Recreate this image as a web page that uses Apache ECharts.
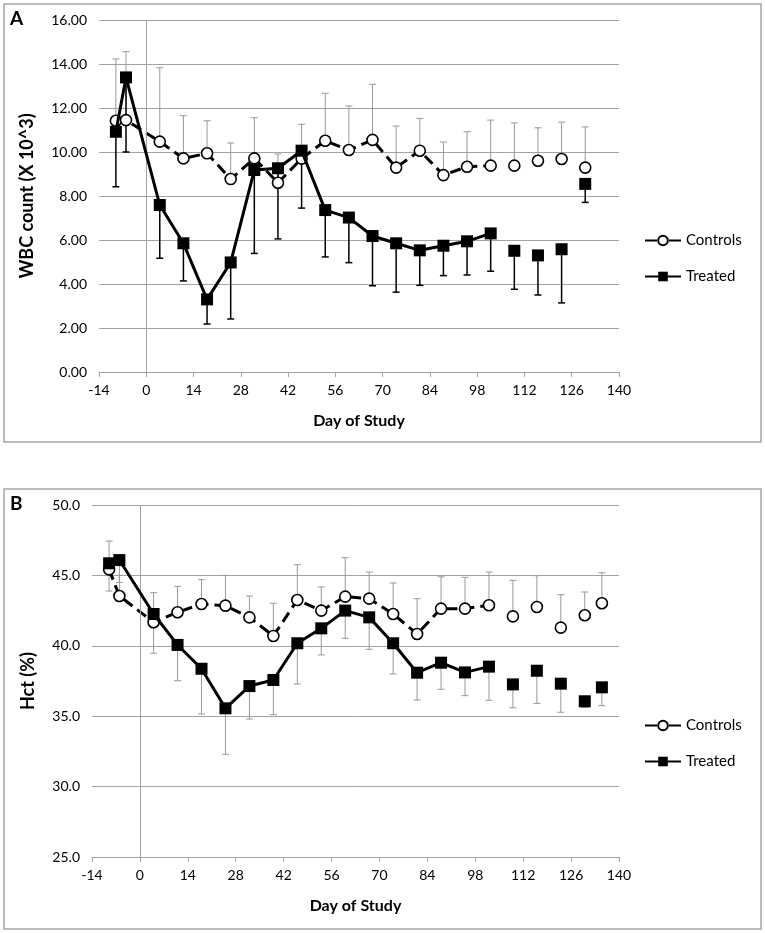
<!DOCTYPE html>
<html>
<head>
<meta charset="utf-8">
<script src="https://cdn.jsdelivr.net/npm/echarts@6/dist/echarts.min.js"></script>
<style>
html,body{margin:0;padding:0;background:#fff;}
#c{width:765px;height:933px;}
</style>
</head>
<body>
<div id="c"></div>
<script>
// ---------- Panel A: WBC count ----------
const daysA = [-9,-6,4,11,18,25,32,39,46,53,60,67,74,81,88,95,102,109,116,123,130];
const wbcControls = [11.42,11.45,10.47,9.71,9.94,8.77,9.71,8.60,9.70,10.51,10.09,10.55,9.29,10.06,8.95,9.33,9.38,9.38,9.60,9.68,9.29];
const wbcControlsUpper = [14.23,14.56,13.83,11.65,11.42,10.41,11.56,9.91,11.26,12.67,12.09,13.08,11.18,11.53,10.45,10.92,11.45,11.32,11.10,11.36,11.14];
const wbcTreated = [10.92,13.39,7.59,5.85,3.30,4.98,9.18,9.26,10.06,7.36,7.02,6.18,5.85,5.53,5.74,5.94,6.30,5.51,5.30,5.58,8.55];
const wbcTreatedLower = [8.42,10.00,5.17,4.14,2.18,2.41,5.39,6.05,7.45,5.23,4.97,3.92,3.63,3.94,4.38,4.41,4.58,3.76,3.50,3.14,7.71];

// ---------- Panel B: Hct ----------
const daysB = [-9,-6,4,11,18,25,32,39,46,53,60,67,74,81,88,95,102,109,116,123,130,135];
const hctControls = [45.43,43.54,41.67,42.38,42.97,42.85,42.02,40.70,43.25,42.50,43.49,43.35,42.26,40.84,42.64,42.64,42.88,42.09,42.76,41.29,42.17,43.02];
const hctControlsUpper = [47.44,45.00,43.77,44.22,44.70,45.00,43.54,43.02,45.76,44.18,46.26,45.24,44.46,43.35,44.90,44.86,45.24,44.65,44.98,43.63,43.82,45.19];
const hctTreated = [45.86,46.09,42.26,40.06,38.37,35.56,37.14,37.57,40.18,41.24,42.50,42.02,40.18,38.09,38.80,38.11,38.52,37.26,38.23,37.31,36.06,37.05];
const hctTreatedLower = [43.89,44.50,39.47,37.52,35.16,32.29,34.80,35.11,37.29,39.35,40.53,39.75,38.00,36.15,36.91,36.46,36.13,35.60,35.91,35.28,35.63,35.75];

// last day joined by the connecting line (later points stand alone)
const lastLinkedDay = 102;

const xTicks = {min:-14, max:140, interval:14};
const yTicksA = {min:0, max:16, interval:2};
const yTicksB = {min:25, max:50, interval:5};

const FONT = 'Lato, "Open Sans", sans-serif';
const GRID_COLOR = '#a3a3a3';

function lineData(days, vals){
  const out = [];
  days.forEach((d,i)=>{
    out.push([d, vals[i]]);
    if (d >= lastLinkedDay && i < days.length-1) out.push([(d+days[i+1])/2, '-']);
  });
  return out;
}
function barData(days, vals, ends){
  return days.map((d,i)=>[d, vals[i], ends[i]]);
}
function errRender(color, width){
  return function(params, api){
    const x = api.value(0), y0 = api.value(1), y1 = api.value(2);
    const p0 = api.coord([x,y0]), p1 = api.coord([x,y1]);
    const c = 3.5;
    return {type:'group', children:[
      {type:'line', shape:{x1:p0[0],y1:p0[1],x2:p1[0],y2:p1[1]}, style:{stroke:color,lineWidth:width}},
      {type:'line', shape:{x1:p1[0]-c,y1:p1[1],x2:p1[0]+c,y2:p1[1]}, style:{stroke:color,lineWidth:width}}
    ]};
  };
}
function xAxisCfg(gi){
  return {
    type:'value', gridIndex:gi, min:xTicks.min, max:xTicks.max, interval:xTicks.interval,
    name:'Day of Study', nameLocation:'middle', nameGap:41,
    nameTextStyle:{fontFamily:FONT, fontSize:16, fontWeight:'bold', color:'#000'},
    axisLine:{show:true, onZero:false, lineStyle:{color:GRID_COLOR, width:1}},
    axisTick:{show:true, inside:false, length:5, lineStyle:{color:GRID_COLOR}},
    axisLabel:{fontFamily:FONT, fontSize:14, color:'#000', margin:11},
    splitLine:{show:false}
  };
}
function yAxisCfg(gi, t, name, gap, dec){
  return {
    type:'value', gridIndex:gi, min:t.min, max:t.max, interval:t.interval,
    name:name, nameLocation:'middle', nameGap:gap, nameRotate:90,
    nameTextStyle:{fontFamily:FONT, fontSize:18, fontWeight:'bold', color:'#000'},
    axisLine:{show:false}, axisTick:{show:false},
    axisLabel:{fontFamily:FONT, fontSize:14, color:'#000', margin:12, formatter:v=>v.toFixed(dec)},
    splitLine:{show:true, lineStyle:{color:GRID_COLOR, width:1}}
  };
}
function zeroLine(){
  return {silent:true, symbol:['none','none'], label:{show:false}, animation:false,
    lineStyle:{color:GRID_COLOR, width:1, type:'solid'}, data:[{xAxis:0}]};
}
const controlsStyle = {
  type:'line', symbol:'circle', symbolSize:11, showSymbol:true, showAllSymbol:true, connectNulls:false,
  lineStyle:{color:'#000', width:3, type:[11,6]},
  itemStyle:{color:'#fff', borderColor:'#000', borderWidth:1.6},
  z:4, animation:false
};
const treatedStyle = {
  type:'line', symbol:'rect', symbolSize:12, showSymbol:true, showAllSymbol:true, connectNulls:false,
  lineStyle:{color:'#000', width:3, type:'solid'},
  itemStyle:{color:'#000', borderColor:'#000', borderWidth:0},
  z:5, animation:false
};
function legendCfg(top){
  const ts = {fontFamily:FONT, fontSize:15, color:'#000'};
  return {
    data:[{name:'Controls', lineStyle:{type:[12,12]}}, 'Treated'],
    orient:'vertical', left:639, top:top, itemWidth:36, itemHeight:12, itemGap:21,
    textStyle:ts, selectedMode:false
  };
}

const chart = echarts.init(document.getElementById('c'), null, {renderer:'canvas', width:765, height:933});
chart.setOption({
  backgroundColor:'#fff',
  animation:false,
  textStyle:{fontFamily:FONT},
  grid:[
    {left:99, top:20, width:520, height:352},
    {left:92, top:505, width:527, height:352}
  ],
  xAxis:[xAxisCfg(0), xAxisCfg(1)],
  yAxis:[
    yAxisCfg(0, yTicksA, 'WBC count (X 10^3)', 63, 2),
    yAxisCfg(1, yTicksB, 'Hct (%)', 55, 1)
  ],
  legend:[legendCfg(228), legendCfg(713)],
  graphic:[
    {type:'rect', shape:{x:4, y:4, width:757, height:438}, style:{fill:'none', stroke:'#a6a6a6', lineWidth:1.5}, silent:true},
    {type:'rect', shape:{x:4, y:489, width:757, height:440}, style:{fill:'none', stroke:'#a6a6a6', lineWidth:1.5}, silent:true},
    {type:'text', left:10, top:9, style:{text:'A', font:'bold 19px '+FONT, fill:'#000'}},
    {type:'text', left:10, top:494, style:{text:'B', font:'bold 19px '+FONT, fill:'#000'}}
  ],
  series:[
    {type:'custom', name:'errA_c', xAxisIndex:0, yAxisIndex:0, renderItem:errRender('#999999',1), encode:{x:0,y:[1,2]},
     data:barData(daysA, wbcControls, wbcControlsUpper), z:2, silent:true},
    {type:'custom', name:'errA_t', xAxisIndex:0, yAxisIndex:0, renderItem:errRender('#000000',1.5), encode:{x:0,y:[1,2]},
     data:barData(daysA, wbcTreated, wbcTreatedLower), z:2, silent:true},
    Object.assign({}, controlsStyle, {name:'Controls', xAxisIndex:0, yAxisIndex:0, data:lineData(daysA, wbcControls), markLine:zeroLine()}),
    Object.assign({}, treatedStyle, {name:'Treated', xAxisIndex:0, yAxisIndex:0, data:lineData(daysA, wbcTreated)}),

    {type:'custom', name:'errB_c', xAxisIndex:1, yAxisIndex:1, renderItem:errRender('#999999',1), encode:{x:0,y:[1,2]},
     data:barData(daysB, hctControls, hctControlsUpper), z:2, silent:true},
    {type:'custom', name:'errB_t', xAxisIndex:1, yAxisIndex:1, renderItem:errRender('#999999',1), encode:{x:0,y:[1,2]},
     data:barData(daysB, hctTreated, hctTreatedLower), z:2, silent:true},
    Object.assign({}, controlsStyle, {name:'Controls', xAxisIndex:1, yAxisIndex:1, data:lineData(daysB, hctControls), markLine:zeroLine()}),
    Object.assign({}, treatedStyle, {name:'Treated', xAxisIndex:1, yAxisIndex:1, data:lineData(daysB, hctTreated)})
  ]
});
</script>
</body>
</html>
